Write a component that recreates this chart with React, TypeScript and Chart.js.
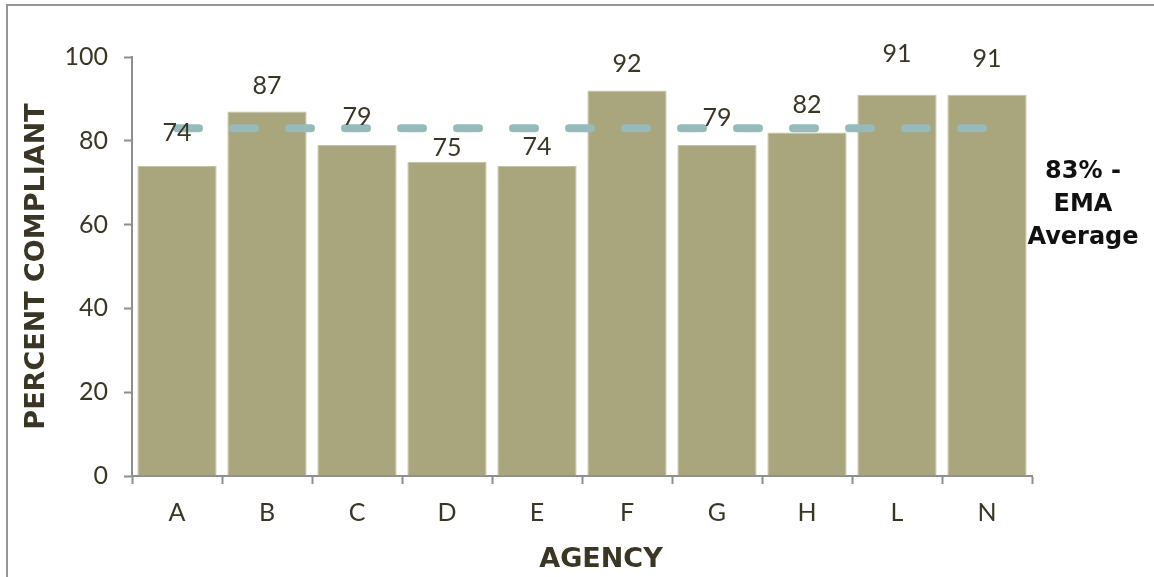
import React, { useEffect, useRef } from "react";
import { Chart, registerables } from "chart.js";

Chart.register(...registerables);

// Compliance by agency (percent)
const agencies = ["A", "B", "C", "D", "E", "F", "G", "H", "L", "N"];
const percentCompliant = [74, 87, 79, 75, 74, 92, 79, 82, 91, 91];
const emaAverage = 83;
const yTicks = [0, 20, 40, 60, 80, 100];
const averageNote = ["83% -", "EMA", "Average"];

// Hand-placed lift of each value label above its bar top (px)
const labelLift = [33, 26, 28, 14, 19, 27, 27, 27, 41, 36];

const BAR = "#a9a67e";
const DASH = "#97baba";
const INK = "#3b3526";
const AXIS = "#8e8e8e";
const TICK_FONT = "Lato, 'Noto Sans', sans-serif";
const BOLD_FONT = "'DejaVu Sans', sans-serif";

const annotations = {
  id: "annotations",
  afterDatasetsDraw(chart: any) {
    const { ctx } = chart;
    const meta = chart.getDatasetMeta(1);
    ctx.save();
    ctx.fillStyle = INK;
    ctx.font = `normal 25px ${TICK_FONT}`;
    ctx.textAlign = "center";
    ctx.textBaseline = "middle";
    meta.data.forEach((bar: any, i: number) => {
      ctx.fillText(String(percentCompliant[i]), bar.x, bar.y - labelLift[i]);
    });
    ctx.restore();
  },
  afterDraw(chart: any) {
    const { ctx, chartArea } = chart;
    ctx.save();
    // outer frame (top and left edges)
    ctx.strokeStyle = "#979797";
    ctx.lineWidth = 2;
    ctx.beginPath();
    ctx.moveTo(1154, 5);
    ctx.lineTo(7, 5);
    ctx.lineTo(7, 577);
    ctx.stroke();

    ctx.fillStyle = INK;
    ctx.textAlign = "center";
    ctx.textBaseline = "middle";
    // x axis title
    ctx.font = `bold 27px ${BOLD_FONT}`;
    ctx.fillText("AGENCY", 601, 560);
    // y axis title
    ctx.save();
    ctx.translate(37, (chartArea.top + chartArea.bottom) / 2);
    ctx.rotate(-Math.PI / 2);
    ctx.font = `bold 27px ${BOLD_FONT}`;
    ctx.fillText("PERCENT COMPLIANT", 0, 0);
    ctx.restore();
    // average note
    ctx.fillStyle = "#111";
    ctx.font = `bold 24px ${BOLD_FONT}`;
    averageNote.forEach((line, i) => {
      ctx.fillText(line, 1083, 172 + i * 33);
    });
    ctx.restore();
  },
};

export default function App() {
  const canvasRef = useRef<HTMLCanvasElement | null>(null);

  useEffect(() => {
    const canvas = canvasRef.current;
    if (!canvas) return;
    const chart = new Chart(canvas, {
      type: "bar",
      data: {
        labels: agencies,
        datasets: [
          {
            type: "line",
            label: "EMA Average",
            data: agencies.map(() => emaAverage),
            borderColor: DASH,
            borderWidth: 8,
            borderDash: [22, 34],
            borderCapStyle: "round",
            pointRadius: 0,
            fill: false,
            order: 0,
          } as any,
          {
            type: "bar",
            label: "Percent Compliant",
            data: percentCompliant,
            backgroundColor: BAR,
            borderColor: "#c4c2a4",
            borderWidth: 1,
            barPercentage: 0.88,
            categoryPercentage: 1,
            order: 1,
          },
        ],
      },
      options: {
        responsive: false,
        animation: false,
        devicePixelRatio: 1,
        layout: { padding: { left: 0, top: 57, right: 122, bottom: 0 } },
        plugins: {
          legend: { display: false },
          tooltip: { enabled: false },
          title: { display: false },
        },
        scales: {
          x: {
            offset: true,
            grid: {
              offset: true,
              drawOnChartArea: false,
              drawTicks: true,
              tickLength: 8,
              tickWidth: 2,
              tickColor: AXIS,
            },
            border: { display: true, color: AXIS, width: 2 },
            ticks: {
              color: INK,
              padding: 14,
              maxRotation: 0,
              font: { family: TICK_FONT, size: 25, weight: "normal" },
            },
            afterFit(scale: any) {
              scale.height = 101;
            },
          },
          y: {
            min: 0,
            max: 100,
            afterBuildTicks(scale: any) {
              scale.ticks = yTicks.map((v) => ({ value: v }));
            },
            grid: {
              drawOnChartArea: false,
              drawTicks: true,
              tickLength: 8,
              tickWidth: 2,
              tickColor: AXIS,
            },
            border: { display: true, color: AXIS, width: 2 },
            ticks: {
              color: INK,
              padding: 16,
              font: { family: TICK_FONT, size: 25, weight: "normal" },
            },
            afterFit(scale: any) {
              scale.width = 132;
            },
          },
        },
      },
      plugins: [annotations],
    });
    return () => chart.destroy();
  }, []);

  return (
    <div style={{ position: "fixed", left: 0, top: 0, width: 1154, height: 577, background: "#fff" }}>
      <canvas ref={canvasRef} width={1154} height={577} />
    </div>
  );
}
